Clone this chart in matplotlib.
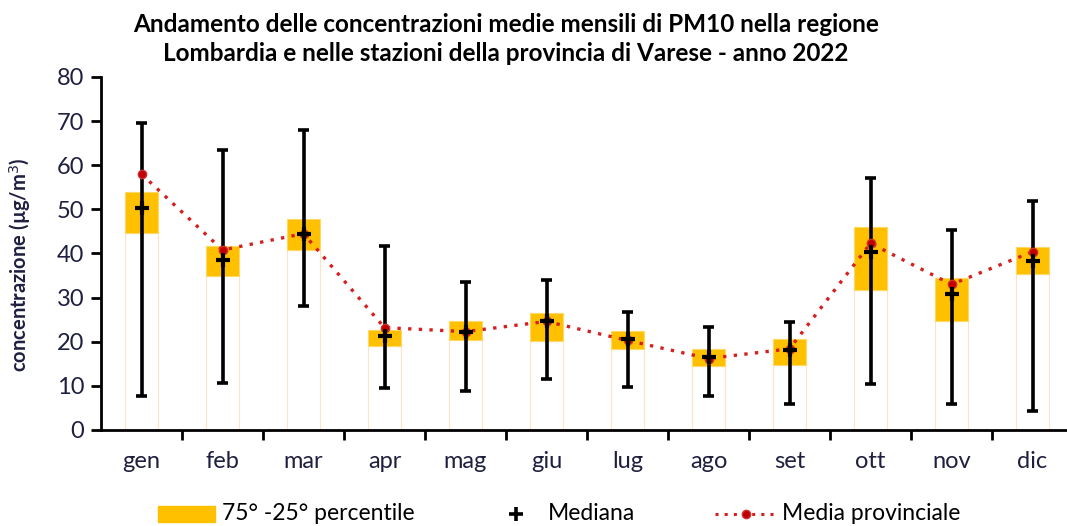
import matplotlib
matplotlib.use("Agg")
import matplotlib.pyplot as plt
from matplotlib.lines import Line2D
from matplotlib.patches import Rectangle
import numpy as np

months = ["gen", "feb", "mar", "apr", "mag", "giu", "lug", "ago", "set", "ott", "nov", "dic"]
p_min = [7.7, 10.7, 28.0, 9.5, 8.8, 11.6, 9.8, 7.6, 6.0, 10.4, 6.0, 4.3]
p_max = [69.6, 63.5, 68.0, 41.6, 33.5, 33.9, 26.8, 23.4, 24.5, 57.2, 45.4, 51.9]
p25 = [44.6, 34.9, 40.8, 19.0, 20.3, 20.2, 18.4, 14.4, 14.7, 31.7, 24.7, 35.4]
p75 = [54.0, 41.7, 47.8, 22.7, 24.6, 26.5, 22.4, 18.3, 20.6, 46.1, 34.5, 41.4]
median = [50.3, 38.5, 44.4, 21.3, 22.3, 24.6, 20.6, 16.5, 18.1, 40.4, 30.8, 38.4]
mean = [58.0, 40.8, 44.5, 23.2, 22.3, 24.6, 20.3, 16.2, 18.4, 42.3, 33.0, 40.4]
legend_labels = ['75° -25° percentile', 'Mediana', 'Media provinciale']

plt.rcParams['font.family'] = ['Lato', 'DejaVu Sans']

W, H = 1067, 526
fig = plt.figure(figsize=(W / 100, H / 100), dpi=100)
ax = fig.add_axes([101 / W, 96 / H, 966 / W, 353 / H])

x = np.arange(len(months))
gold = '#FFC000'
red = '#D42020'
w = 0.4
ax.bar(x, p25, width=w, bottom=0, color='white', edgecolor='#FCE4C8', linewidth=0.8, zorder=1)
ax.bar(x, np.array(p75) - np.array(p25), width=w, bottom=p25, color=gold,
       edgecolor='#FFD966', linewidth=0.8, zorder=2)
ax.vlines(x, p_min, p_max, color='black', linewidth=2.6, zorder=3)
cap = 0.07
ax.hlines(p_min, x - cap, x + cap, color='black', linewidth=2.6, zorder=3)
ax.hlines(p_max, x - cap, x + cap, color='black', linewidth=2.6, zorder=3)
ax.plot(x, mean, linestyle=(0, (1, 2.2)), color=red, linewidth=2.4, marker='o',
        markersize=6, markerfacecolor='#C00000', markeredgecolor='#D03030', zorder=4)
ax.plot(x, median, linestyle='none', marker='+', markersize=10.5, markeredgewidth=3,
        color='black', zorder=5)

ax.set_xlim(-0.5, -0.5 + 966 / 81)
ax.set_ylim(0, 80)
ax.set_yticks(np.arange(0, 81, 10))
ax.set_xticks(x)
ax.set_xticklabels(months)
ax.set_xticks(np.arange(0.5, 11.5, 1), minor=True)
ax.tick_params(axis='x', which='major', length=0, pad=15, labelsize=17, labelcolor='#1F1F3F')
ax.tick_params(axis='x', which='minor', length=7, width=2, direction='out', color='black')
ax.tick_params(axis='y', which='major', length=7, width=2, direction='out', labelsize=17,
               labelcolor='#1F1F3F', pad=5)
for s in ['top', 'right']:
    ax.spines[s].set_visible(False)
for s in ['left', 'bottom']:
    ax.spines[s].set_linewidth(2)
    ax.spines[s].set_color('black')

fig.text(20 / W, 1 - 265 / H, 'concentrazione (µg/m$^3$)', rotation=90, ha='center', va='center',
         fontsize=14.5, fontweight='bold', color='#1F1F3F')

fig.text(506 / W, 1 - 39 / H,
         'Andamento delle concentrazioni medie mensili di PM10 nella regione\nLombardia e nelle stazioni della provincia di Varese - anno 2022',
         ha='center', va='center', fontsize=17.5, fontweight='bold', linespacing=1.35)

# legend (manual placement)
ly = 1 - 514 / H
fig.add_artist(Rectangle((158 / W, ly - 8 / H), 57 / W, 16 / H, transform=fig.transFigure,
                         facecolor=gold, edgecolor=gold))
fig.text(222 / W, ly, legend_labels[0], ha='left', va='center', fontsize=16.5, color='black')
fig.add_artist(Line2D([516 / W], [ly], transform=fig.transFigure, linestyle='none', marker='+',
                      markersize=10, markeredgewidth=2.6, color='black'))
fig.text(548 / W, ly, legend_labels[1], ha='left', va='center', fontsize=16.5, color='black')
fig.add_artist(Line2D([715 / W, 776 / W], [ly, ly], transform=fig.transFigure,
                      linestyle=(0, (1, 2)), color=red, linewidth=2.2))
fig.add_artist(Line2D([746 / W], [ly], transform=fig.transFigure, linestyle='none', marker='o',
                      markersize=6, markerfacecolor='#C00000', markeredgecolor='#D03030'))
fig.text(782 / W, ly, legend_labels[2], ha='left', va='center', fontsize=16.5, color='black')

fig.savefig('out.png', dpi=100)
